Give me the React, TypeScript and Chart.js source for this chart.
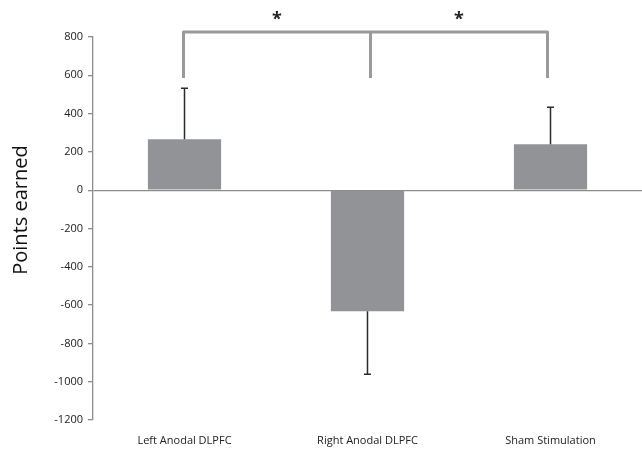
import React, { useEffect, useRef } from "react";
import { Chart, registerables } from "chart.js";

Chart.register(...registerables);

const categories = ["Left Anodal DLPFC", "Right Anodal DLPFC", "Sham Stimulation"];
const pointsEarned = [266, -632, 240];
const errorEnds = [532, -961, 433];
const yTicks = [-1200, -1000, -800, -600, -400, -200, 0, 200, 400, 600, 800];
const yTitle = "Points earned";
const bracketTop = 826;
const bracketBottom = 586;
const asteriskLevel = 905;

const errorBarPlugin = {
  id: "errorBars",
  afterDatasetsDraw(chart: any) {
    const ctx = chart.ctx;
    const meta = chart.getDatasetMeta(0);
    const y = chart.scales.y;
    ctx.save();
    ctx.strokeStyle = "#2b2b2b";
    ctx.lineWidth = 1.5;
    meta.data.forEach((bar: any, i: number) => {
      const x = bar.x;
      const y0 = y.getPixelForValue(pointsEarned[i]);
      const y1 = y.getPixelForValue(errorEnds[i]);
      ctx.beginPath();
      ctx.moveTo(x, y0);
      ctx.lineTo(x, y1);
      ctx.moveTo(x - 3.5, y1);
      ctx.lineTo(x + 3.5, y1);
      ctx.stroke();
    });
    ctx.restore();
  },
};

const bracketPlugin = {
  id: "bracket",
  afterDraw(chart: any) {
    const ctx = chart.ctx;
    const xs = chart.scales.x;
    const y = chart.scales.y;
    const x0 = xs.getPixelForValue(0) - 1;
    const x1 = xs.getPixelForValue(1) + 3;
    const x2 = xs.getPixelForValue(2) - 3;
    const yt = y.getPixelForValue(bracketTop);
    const yb = y.getPixelForValue(bracketBottom);
    ctx.save();
    ctx.strokeStyle = "#9a9a9a";
    ctx.lineWidth = 3;
    ctx.lineJoin = "round";
    ctx.beginPath();
    ctx.moveTo(x0, yb);
    ctx.lineTo(x0, yt);
    ctx.lineTo(x2, yt);
    ctx.lineTo(x2, yb);
    ctx.moveTo(x1, yt);
    ctx.lineTo(x1, yb);
    ctx.stroke();
    const ya = y.getPixelForValue(asteriskLevel);
    ctx.fillStyle = "#222";
    ctx.font = "bold 18px 'Open Sans'";
    ctx.textAlign = "center";
    ctx.textBaseline = "middle";
    ctx.fillText("*", (x0 + x1) / 2, ya + 3);
    ctx.fillText("*", (x1 + x2) / 2, ya + 3);

    // y-axis title
    ctx.translate(21, 210);
    ctx.rotate(-Math.PI / 2);
    ctx.fillStyle = "#111";
    ctx.font = "20px 'Open Sans'";
    ctx.fillText(yTitle, 0, 0);
    ctx.restore();
  },
};

export default function App() {
  const ref = useRef<HTMLCanvasElement>(null);
  useEffect(() => {
    if (!ref.current) return;
    const chart = new Chart(ref.current, {
      type: "bar",
      data: {
        labels: categories,
        datasets: [
          {
            data: pointsEarned,
            backgroundColor: "#929397",
            borderWidth: 0,
            categoryPercentage: 1,
            barPercentage: 0.4,
          },
        ],
      },
      options: {
        animation: false,
        responsive: false,
        maintainAspectRatio: false,
        layout: { padding: { top: 37, right: 0, bottom: 0, left: 0 } },
        plugins: { legend: { display: false }, tooltip: { enabled: false } },
        scales: {
          x: {
            grid: { display: false, drawTicks: false },
            border: { display: false },
            afterFit: (axis: any) => {
              axis.height = 31;
            },
            ticks: {
              color: "#222",
              font: { family: "'Open Sans'", size: 11 },
              padding: 14,
              maxRotation: 0,
            },
          },
          y: {
            min: -1200,
            max: 800,
            afterBuildTicks: (axis: any) => {
              axis.ticks = yTicks.map((v) => ({ value: v }));
            },
            afterFit: (axis: any) => {
              axis.width = 93;
            },
            grid: {
              color: (c: any) => (c.tick && c.tick.value === 0 ? "#8c8c8c" : "rgba(0,0,0,0)"),
              tickColor: "#8c8c8c",
              tickLength: 5,
              lineWidth: 1.3,
            },
            border: { display: true, color: "#8c8c8c", width: 1.3 },
            ticks: {
              color: "#222",
              font: { family: "'Open Sans'", size: 11 },
              padding: 5,
              callback: (v: any) => String(v),
            },
          },
        },
      },
      plugins: [errorBarPlugin, bracketPlugin],
    });
    return () => chart.destroy();
  }, []);
  return (
    <div style={{ position: "absolute", left: 0, top: 0, width: 642, height: 451 }}>
      <canvas ref={ref} width={642} height={451} style={{ display: "block" }} />
    </div>
  );
}
